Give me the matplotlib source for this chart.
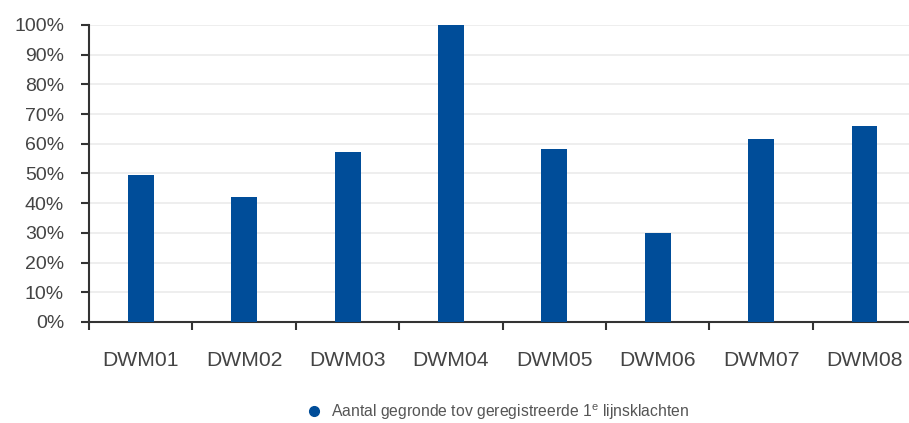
import matplotlib
matplotlib.use("Agg")
import matplotlib.pyplot as plt
from matplotlib.ticker import FuncFormatter

categories = ["DWM01", "DWM02", "DWM03", "DWM04", "DWM05", "DWM06", "DWM07", "DWM08"]
values = [49.5, 42.0, 57.2, 100.0, 58.2, 30.1, 61.5, 66.1]
yticks = list(range(0, 101, 10))
series_label = "Aantal gegronde tov geregistreerde 1$^{\\mathrm{e}}$ lijnsklachten"

blue = "#004d99"
text_col = "#444444"

plt.rcParams["font.family"] = ["Liberation Sans", "DejaVu Sans"]
plt.rcParams["mathtext.fontset"] = "custom"
plt.rcParams["mathtext.rm"] = "Liberation Sans"

fig = plt.figure(figsize=(9.09, 4.23), dpi=100)
ax = fig.add_axes([0.098, 0.239, 0.91, 0.702])

x = list(range(len(categories)))
ax.bar(x, values, width=0.25, color=blue, zorder=3, label=series_label)

ax.set_xlim(-0.5, len(categories) - 0.5)
ax.set_ylim(0, 100)
ax.set_yticks(yticks)
ax.yaxis.set_major_formatter(FuncFormatter(lambda v, p: "%d%%" % v))
ax.grid(axis="y", color="#ebebeb", linewidth=1.2, zorder=0)

# category labels centred, tick marks on the boundaries
ax.set_xticks(x)
ax.set_xticklabels(categories, fontsize=15.2, color=text_col)
ax.tick_params(axis="x", length=0, pad=21)
ax.set_xticks([i - 0.5 for i in range(len(categories) + 1)], minor=True)
ax.tick_params(axis="x", which="minor", length=6, width=1.5, color="#333333", direction="out")
ax.tick_params(axis="y", length=6, width=1.5, color="#333333", labelsize=14,
               labelcolor=text_col, pad=12)

for s in ["top", "right"]:
    ax.spines[s].set_visible(False)
for s in ["left", "bottom"]:
    ax.spines[s].set_color("#333333")
    ax.spines[s].set_linewidth(1.5)

handle = plt.Line2D([], [], marker="o", linestyle="", color=blue, markersize=7)
fig.legend([handle], [series_label], loc="center", bbox_to_anchor=(0.543, 0.026),
           frameon=False, fontsize=11.3, handletextpad=0.1, labelcolor="#555555")

fig.savefig("out.png", dpi=100)
